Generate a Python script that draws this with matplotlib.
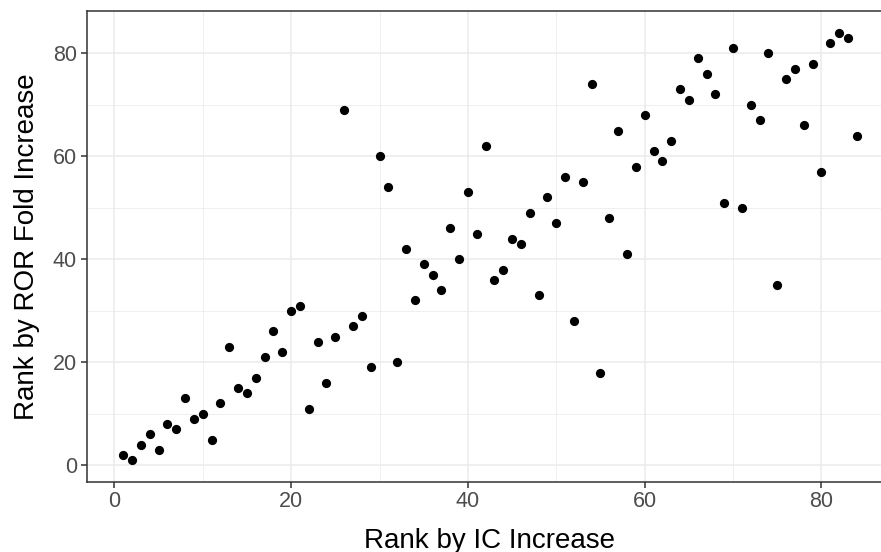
import matplotlib
matplotlib.use("Agg")
import matplotlib.pyplot as plt
from matplotlib.ticker import MultipleLocator

plt.rcParams['font.family'] = ['Liberation Sans', 'DejaVu Sans']

# Data: rank by IC increase (x) vs rank by ROR fold increase (y)
rank_ic = list(range(1, 85))
rank_ror = [2, 1, 4, 6, 3, 8, 7, 13, 9, 10,
            5, 12, 23, 15, 14, 17, 21, 26, 22, 30,
            31, 11, 24, 16, 25, 69, 27, 29, 19, 60,
            54, 20, 42, 32, 39, 37, 34, 46, 40, 53,
            45, 62, 36, 38, 44, 43, 49, 33, 52, 47,
            56, 28, 55, 74, 18, 48, 65, 41, 58, 68,
            61, 59, 63, 73, 71, 79, 76, 72, 51, 81,
            50, 70, 67, 80, 35, 75, 77, 66, 78, 57,
            82, 84, 83, 64]

x_label = "Rank by IC Increase"
y_label = "Rank by ROR Fold Increase"

W, H = 881, 552
fig = plt.figure(figsize=(W / 100, H / 100), dpi=100)
left, right, top, bottom = 86.5, 893.5, 11.3, 481.5
ax = fig.add_axes([left / W, (H - bottom) / H, (right - left) / W, (bottom - top) / H])

ax.scatter(rank_ic, rank_ror, s=44, color='black', linewidths=0, zorder=3)

lo = min(rank_ic); hi = max(rank_ic)
pad = (hi - lo) * 0.05
ax.set_xlim(lo - pad, hi + pad)
lo_y = min(rank_ror); hi_y = max(rank_ror)
pad_y = (hi_y - lo_y) * 0.05
ax.set_ylim(lo_y - pad_y, hi_y + pad_y)

for axis in (ax.xaxis, ax.yaxis):
    axis.set_major_locator(MultipleLocator(20))
    axis.set_minor_locator(MultipleLocator(10))

ax.grid(which='major', color='#EBEBEB', linewidth=1.1, zorder=0)
ax.grid(which='minor', color='#EBEBEB', linewidth=0.55, zorder=0)
ax.set_axisbelow(True)

for sp in ax.spines.values():
    sp.set_color('#333333')
    sp.set_linewidth(1.1)

ax.tick_params(which='major', direction='out', length=4, width=1.1, color='#333333',
               labelcolor='#4D4D4D', labelsize=15.5, pad=3)
ax.tick_params(which='minor', length=0)

ax.set_xlabel(x_label, fontsize=20, color='black', labelpad=11)
ax.set_ylabel(y_label, fontsize=20, color='black', labelpad=9)

fig.savefig("out.png", dpi=100)
